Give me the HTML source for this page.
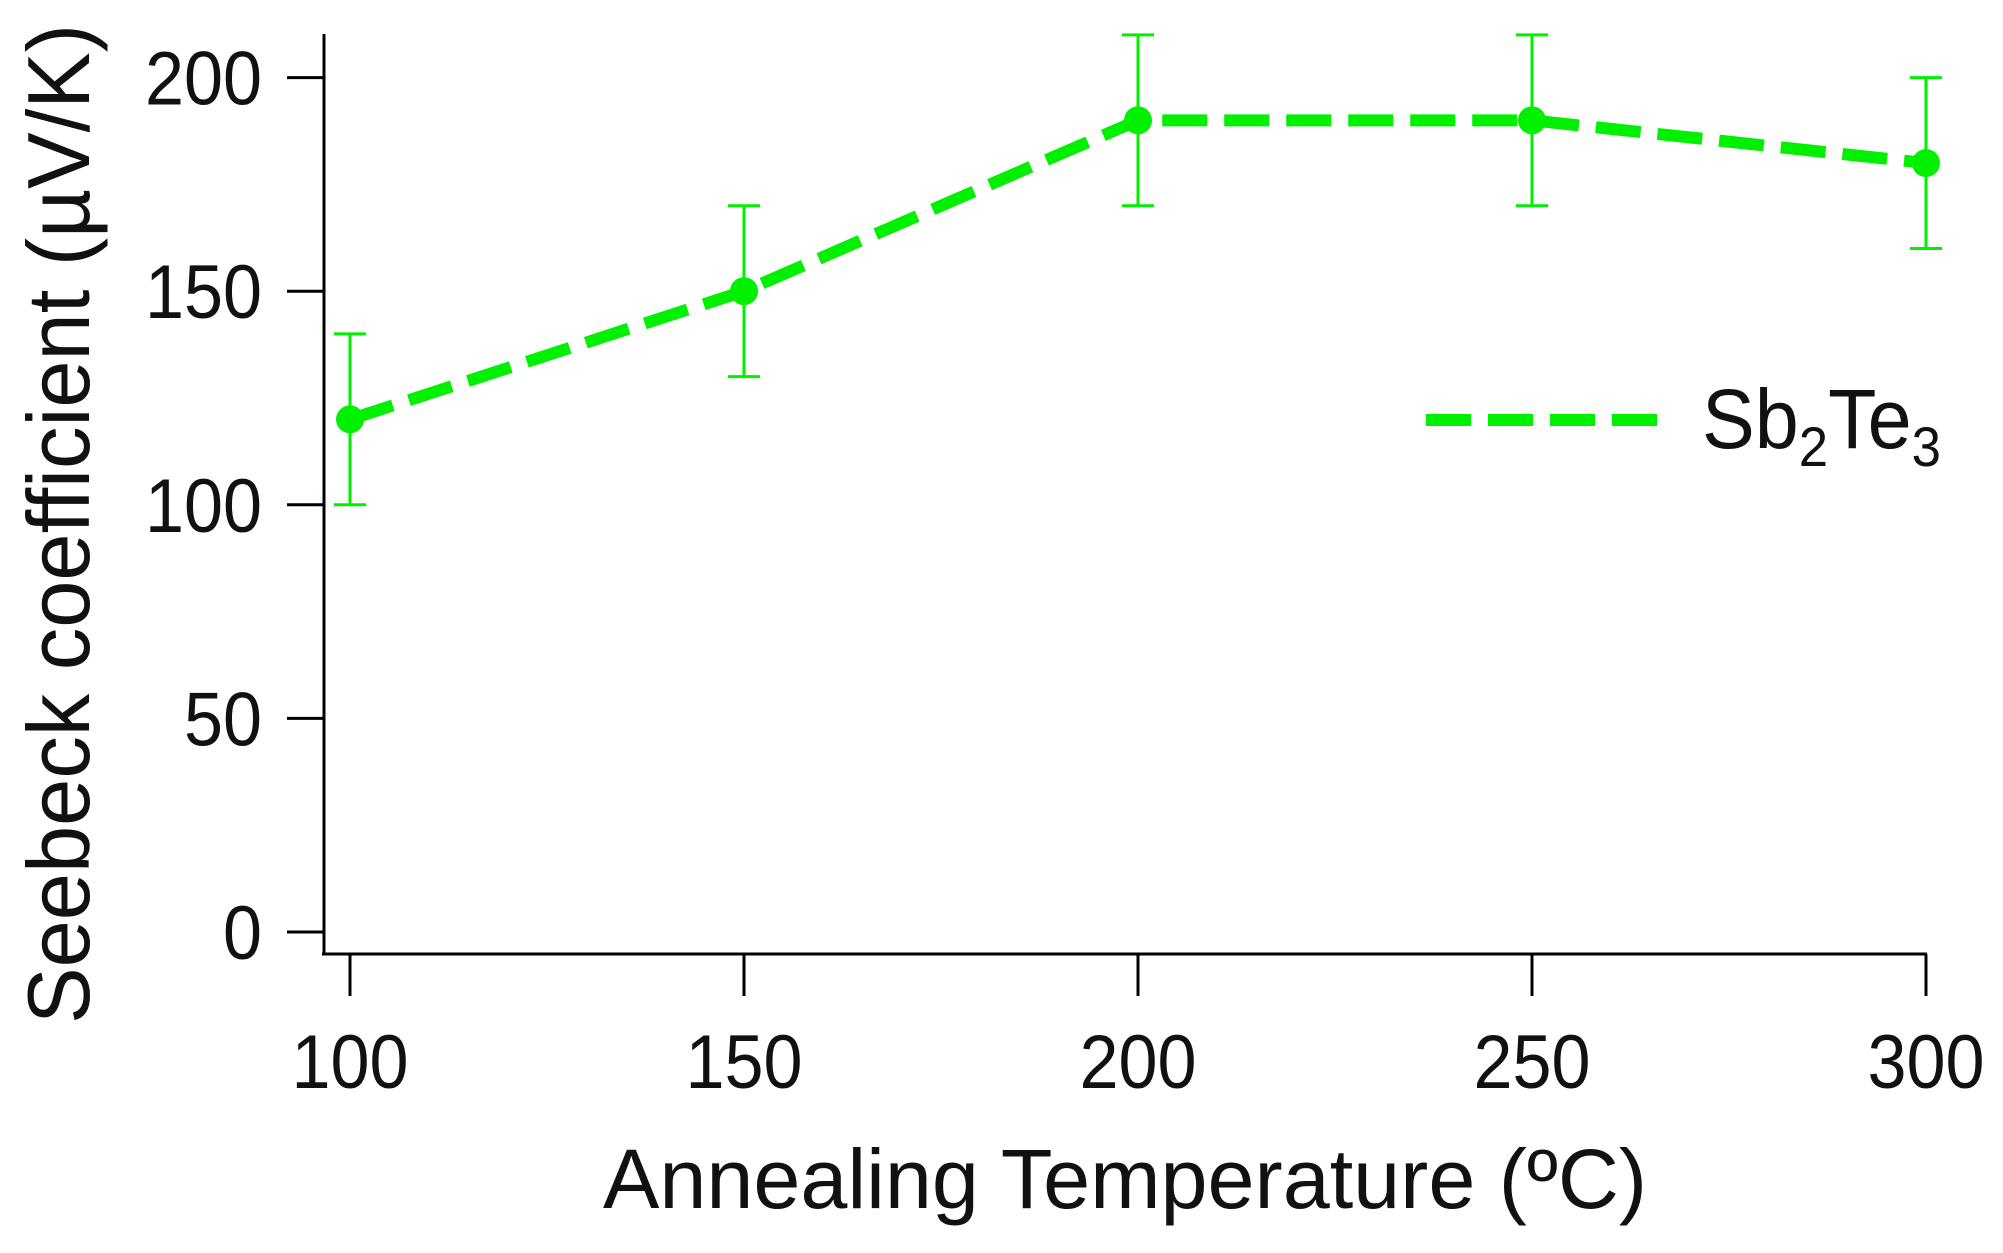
<!DOCTYPE html>
<html><head><meta charset="utf-8"><style>html,body{margin:0;padding:0;background:#fff}svg{display:block}</style></head>
<body>
<svg id="chart" width="2003" height="1253" xmlns="http://www.w3.org/2000/svg" font-family="Liberation Sans, sans-serif">
<g id="axes"></g>
<g id="series"></g>
<text transform="translate(89,524) rotate(-90)" text-anchor="middle" font-size="88" textLength="1000" lengthAdjust="spacingAndGlyphs" fill="#111">Seebeck coefficient (µV/K)</text>
<text x="603" y="1208" font-size="84" textLength="1044" lengthAdjust="spacingAndGlyphs" fill="#111">Annealing Temperature (ºC)</text>
<g>
<line x1="1426" y1="420" x2="1668" y2="420" stroke="#00f000" stroke-width="12" stroke-dasharray="45 17"/>
<text x="1702" y="448" font-size="84" fill="#111" textLength="239" lengthAdjust="spacingAndGlyphs">Sb<tspan font-size="56" dy="18">2</tspan><tspan dy="-18">Te</tspan><tspan font-size="56" dy="18">3</tspan></text>
</g>
</svg>
<script>
const categories = [100, 150, 200, 250, 300];
const seebeck = [120, 150, 190, 190, 180];
const errors = [20, 20, 20, 20, 20];
const yTicks = [0, 50, 100, 150, 200];
const xTicks = [100, 150, 200, 250, 300];

const NS = 'http://www.w3.org/2000/svg';
function xs(v){ return 350 + (v - 100) * (1926 - 350) / 200; }
function ys(v){ return 932 - v * (932 - 77.6) / 200; }
function mk(tag, attrs, parent){ const e = document.createElementNS(NS, tag); for (const k in attrs) e.setAttribute(k, attrs[k]); parent.appendChild(e); return e; }

const axes = document.getElementById('axes');
let e = mk('line', {x1:324, y1:34, x2:324, y2:954, stroke:'#000', 'stroke-width':3}, axes);


e = mk('line', {x1:322, y1:954, x2:1927, y2:954, stroke:'#000', 'stroke-width':3}, axes);


yTicks.forEach(t => {
  const y = ys(t);
  let l = mk('line', {x1:287, y1:y, x2:324, y2:y, stroke:'#000', 'stroke-width':3}, axes);
  
  
  const s = String(t);
  let tx = mk('text', {x:262, y:y + 27, 'text-anchor':'end', 'font-size':76, fill:'#111', textLength:s.length * 39, lengthAdjust:'spacingAndGlyphs'}, axes);
  tx.textContent = s;
  
  
});
xTicks.forEach(t => {
  const x = xs(t);
  let l = mk('line', {x1:x, y1:954, x2:x, y2:996, stroke:'#000', 'stroke-width':3}, axes);
  
  
  const s = String(t);
  let tx = mk('text', {x:x, y:1088, 'text-anchor':'middle', 'font-size':76, fill:'#111', textLength:s.length * 39, lengthAdjust:'spacingAndGlyphs'}, axes);
  tx.textContent = s;
  
  
});

const g = document.getElementById('series');
const pts = categories.map((c, i) => xs(c) + ',' + ys(seebeck[i])).join(' ');
let pl = mk('polyline', {points:pts, fill:'none', stroke:'#00f000', 'stroke-width':12, 'stroke-dasharray':'45 17'}, g);


categories.forEach((c, i) => {
  const x = xs(c), yt = ys(seebeck[i] + errors[i]), yb = ys(seebeck[i] - errors[i]);
  let eb = mk('path', {d:`M${x-16},${yt}H${x+16}M${x},${yt}V${yb}M${x-16},${yb}H${x+16}`, stroke:'#00f000', 'stroke-width':3, fill:'none'}, g);
  
  
  let p = mk('circle', {cx:x, cy:ys(seebeck[i]), r:14, fill:'#00f000'}, g);
  
  
});
</script>
</body></html>
